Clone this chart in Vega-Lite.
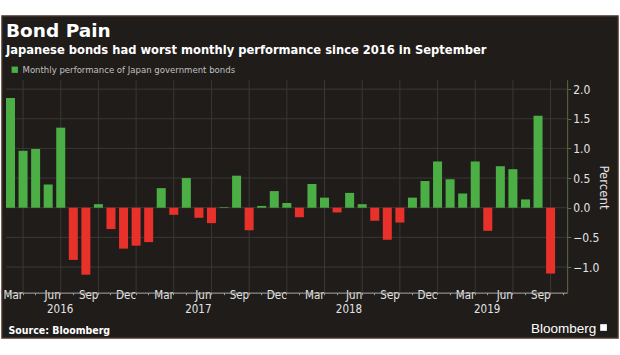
{
  "$schema": "https://vega.github.io/schema/vega-lite/v6.json",
  "width": 616,
  "height": 322,
  "autosize": {"type": "none"},
  "padding": {"left": 2, "right": 2, "top": 16, "bottom": 17},
  "background": "#ffffff",
  "config": {
    "view": {"fill": "#1f1c1a", "stroke": "#4a3326", "strokeWidth": 1.5},
    "font": "DejaVu Sans Condensed"
  },
  "title": {
    "text": "Bond Pain",
    "subtitle": "Japanese bonds had worst monthly performance since 2016 in September",
    "anchor": "start",
    "frame": "group",
    "orient": "top",
    "offset": -41,
    "dx": 4,
    "font": "DejaVu Sans",
    "fontSize": 18.5,
    "fontWeight": "bold",
    "color": "#ffffff",
    "subtitleFont": "DejaVu Sans Condensed",
    "subtitleFontSize": 12.8,
    "subtitleFontWeight": "bold",
    "subtitleColor": "#ffffff",
    "subtitlePadding": 4
  },
  "datasets": {
    "bars": [
      {"m": "2016-02", "v": 1.85}, {"m": "2016-03", "v": 0.96}, {"m": "2016-04", "v": 0.99},
      {"m": "2016-05", "v": 0.39}, {"m": "2016-06", "v": 1.35}, {"m": "2016-07", "v": -0.88},
      {"m": "2016-08", "v": -1.13}, {"m": "2016-09", "v": 0.06}, {"m": "2016-10", "v": -0.36},
      {"m": "2016-11", "v": -0.69}, {"m": "2016-12", "v": -0.64}, {"m": "2017-01", "v": -0.58},
      {"m": "2017-02", "v": 0.33}, {"m": "2017-03", "v": -0.12}, {"m": "2017-04", "v": 0.5},
      {"m": "2017-05", "v": -0.17}, {"m": "2017-06", "v": -0.26}, {"m": "2017-07", "v": 0.01},
      {"m": "2017-08", "v": 0.54}, {"m": "2017-09", "v": -0.38}, {"m": "2017-10", "v": 0.03},
      {"m": "2017-11", "v": 0.28}, {"m": "2017-12", "v": 0.08}, {"m": "2018-01", "v": -0.16},
      {"m": "2018-02", "v": 0.4}, {"m": "2018-03", "v": 0.17}, {"m": "2018-04", "v": -0.08},
      {"m": "2018-05", "v": 0.25}, {"m": "2018-06", "v": 0.06}, {"m": "2018-07", "v": -0.22},
      {"m": "2018-08", "v": -0.54}, {"m": "2018-09", "v": -0.25}, {"m": "2018-10", "v": 0.17},
      {"m": "2018-11", "v": 0.45}, {"m": "2018-12", "v": 0.78}, {"m": "2019-01", "v": 0.48},
      {"m": "2019-02", "v": 0.24}, {"m": "2019-03", "v": 0.78}, {"m": "2019-04", "v": -0.39},
      {"m": "2019-05", "v": 0.7}, {"m": "2019-06", "v": 0.65}, {"m": "2019-07", "v": 0.14},
      {"m": "2019-08", "v": 1.55}, {"m": "2019-09", "v": -1.11}
    ],
    "hgrid": [{"v": -1}, {"v": -0.5}, {"v": 0}, {"v": 0.5}, {"v": 1}, {"v": 1.5}, {"v": 2}],
    "vgrid": [
      {"m": "2016-03"}, {"m": "2016-06"}, {"m": "2016-09"}, {"m": "2016-12"},
      {"m": "2017-03"}, {"m": "2017-06"}, {"m": "2017-09"}, {"m": "2017-12"},
      {"m": "2018-03"}, {"m": "2018-06"}, {"m": "2018-09"}, {"m": "2018-12"},
      {"m": "2019-03"}, {"m": "2019-06"}, {"m": "2019-09"}
    ],
    "brand": [{"label": "Bloomberg"}]
  },
  "layer": [
    {
      "data": {"name": "vgrid"},
      "mark": {"type": "rule", "color": "#3a3835", "strokeWidth": 1},
      "encoding": {
        "x": {"field": "m", "type": "ordinal", "bandPosition": 0.5},
        "y": {"datum": -1.44, "type": "quantitative"},
        "y2": {"datum": 2.15}
      }
    },
    {
      "data": {"name": "hgrid"},
      "mark": {"type": "rule", "color": "#3a3835", "strokeWidth": 1},
      "encoding": {
        "y": {"field": "v", "type": "quantitative"},
        "x": {"datum": "2016-02", "type": "ordinal", "bandPosition": 0},
        "x2": {"datum": "2019-10", "bandPosition": 1}
      }
    },
    {
      "data": {"name": "bars"},
      "mark": {"type": "bar"},
      "encoding": {
        "x": {
          "field": "m",
          "type": "ordinal",
          "scale": {
            "domain": [
              "2016-02", "2016-03", "2016-04", "2016-05", "2016-06", "2016-07", "2016-08", "2016-09", "2016-10", "2016-11", "2016-12",
              "2017-01", "2017-02", "2017-03", "2017-04", "2017-05", "2017-06", "2017-07", "2017-08", "2017-09", "2017-10", "2017-11", "2017-12",
              "2018-01", "2018-02", "2018-03", "2018-04", "2018-05", "2018-06", "2018-07", "2018-08", "2018-09", "2018-10", "2018-11", "2018-12",
              "2019-01", "2019-02", "2019-03", "2019-04", "2019-05", "2019-06", "2019-07", "2019-08", "2019-09", "2019-10", "2019-11", "2019-12",
              "2020-01", "2020-02"
            ],
            "paddingInner": 0.283,
            "paddingOuter": 0.163,
            "align": 0.976
          },
          "axis": {
            "values": [
              "2016-02", "2016-03", "2016-04", "2016-05", "2016-06", "2016-07", "2016-08", "2016-09", "2016-10", "2016-11", "2016-12",
              "2017-01", "2017-02", "2017-03", "2017-04", "2017-05", "2017-06", "2017-07", "2017-08", "2017-09", "2017-10", "2017-11", "2017-12",
              "2018-01", "2018-02", "2018-03", "2018-04", "2018-05", "2018-06", "2018-07", "2018-08", "2018-09", "2018-10", "2018-11", "2018-12",
              "2019-01", "2019-02", "2019-03", "2019-04", "2019-05", "2019-06", "2019-07", "2019-08", "2019-09", "2019-10"
            ],
            "labelExpr": "[substring(datum.value,5,7)=='03'?'Mar':substring(datum.value,5,7)=='06'?'Jun':substring(datum.value,5,7)=='09'?'Sep':substring(datum.value,5,7)=='12'?'Dec':'', datum.value=='2016-07'?'2016':datum.value=='2017-06'?'2017':datum.value=='2018-06'?'2018':datum.value=='2019-05'?'2019':'']",
            "offset": -45.3,
            "domain": false,
            "grid": false,
            "ticks": true,
            "tickSize": 2,
            "tickColor": "#9a9a9a",
            "labelAngle": 0,
            "labelColor": "#e4e4e4",
            "labelFont": "DejaVu Sans Condensed",
            "labelFontSize": 11.5,
            "labelLineHeight": 13.5,
            "labelPadding": 1,
            "labelOverlap": false,
            "labelFlush": false,
            "labelBound": false,
            "title": "Source: Bloomberg",
            "titleAnchor": "start",
            "titleAlign": "left",
            "titleX": 6,
            "titleY": 40.5,
            "titleBaseline": "alphabetic",
            "titleFont": "DejaVu Sans Condensed",
            "titleFontSize": 10.5,
            "titleFontWeight": "bold",
            "titleColor": "#ffffff"
          }
        },
        "y": {
          "field": "v",
          "type": "quantitative",
          "scale": {"domain": [-2.197, 3.233], "nice": false, "zero": false},
          "axis": {
            "orient": "right",
            "offset": -50.3,
            "values": [-1, -0.5, 0, 0.5, 1, 1.5, 2],
            "format": ".1f",
            "domain": false,
            "grid": false,
            "tickSize": 3,
            "tickColor": "#5e6e48",
            "labelColor": "#e4e4e4",
            "labelFont": "DejaVu Sans Condensed",
            "labelFontSize": 12,
            "labelPadding": 2,
            "title": "Percent",
            "titleColor": "#e4e4e4",
            "titleFont": "DejaVu Sans Condensed",
            "titleFontSize": 13,
            "titleFontWeight": "normal",
            "titleAngle": 90,
            "titleX": 36,
            "titleY": 171,
            "titleAlign": "center",
            "titleBaseline": "middle"
          }
        },
        "y2": {"datum": 0},
        "color": {
          "datum": "Monthly performance of Japan government bonds",
          "type": "nominal",
          "scale": {"range": ["#4caf46"]},
          "condition": {"test": "datum.v < 0", "value": "#e8312b"},
          "legend": {
            "title": null,
            "orient": "none",
            "legendX": 8,
            "legendY": 49,
            "symbolType": "square",
            "symbolSize": 40,
            "symbolStrokeWidth": 0,
            "labelColor": "#c0c0c0",
            "labelFont": "DejaVu Sans Condensed",
            "labelFontSize": 9.5,
            "labelLimit": 0,
            "labelOffset": 3,
            "padding": 0
          }
        }
      }
    },
    {
      "data": {"name": "brand"},
      "mark": {"type": "rule", "color": "#a8a8a8", "strokeWidth": 1},
      "encoding": {
        "x": {"datum": "2016-02", "type": "ordinal", "bandPosition": 0},
        "x2": {"datum": "2019-10", "bandPosition": 1},
        "y": {"datum": -1.44, "type": "quantitative"}
      }
    },
    {
      "data": {"name": "brand"},
      "mark": {"type": "rule", "color": "#5e6e48", "strokeWidth": 1},
      "encoding": {
        "x": {"datum": "2019-10", "type": "ordinal", "bandPosition": 1},
        "y": {"datum": -1.44, "type": "quantitative"},
        "y2": {"datum": 2.15}
      }
    },
    {
      "data": {"name": "brand"},
      "mark": {"type": "text", "align": "right", "baseline": "alphabetic", "font": "Liberation Sans", "fontSize": 13.5, "color": "#ffffff"},
      "encoding": {
        "x": {"datum": "2020-01", "type": "ordinal", "bandPosition": 0},
        "y": {"datum": -2.12, "type": "quantitative"},
        "text": {"field": "label"}
      }
    },
    {
      "data": {"name": "brand"},
      "mark": {"type": "point", "shape": "square", "filled": true, "size": 45, "color": "#ffffff", "opacity": 1},
      "encoding": {
        "x": {"datum": "2020-01", "type": "ordinal", "bandPosition": 0.8},
        "y": {"datum": -2.02, "type": "quantitative"}
      }
    }
  ]
}
